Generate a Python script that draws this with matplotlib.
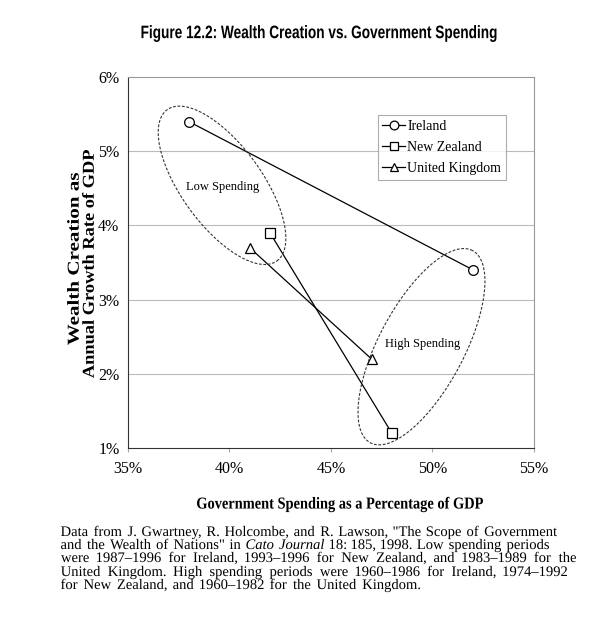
import numpy as np
import matplotlib
matplotlib.use("Agg")
import matplotlib.pyplot as plt
import matplotlib.transforms as mtransforms
from matplotlib.textpath import TextPath
from matplotlib.patches import PathPatch
from matplotlib.font_manager import FontProperties

# data: (low spending period, high spending period)
countries = ["Ireland", "New Zealand", "United Kingdom"]
markers = ["o", "s", "^"]
spending = [[38, 52], [42, 48], [41, 47]]   # % of GDP
growth = [[5.4, 3.4], [3.9, 1.2], [3.7, 2.2]]  # % annual growth

x_ticks = [35, 40, 45, 50, 55]
y_ticks = [1, 2, 3, 4, 5, 6]

title = "Figure 12.2: Wealth Creation vs. Government Spending"
ylabel = ["Wealth Creation as", "Annual Growth Rate of GDP"]
xlabel = "Government Spending as a Percentage of GDP"
caption = [
    'Data from J. Gwartney, R. Holcombe, and R. Lawson, "The Scope of Government',
    'and the Wealth of Nations" in Cato Journal 18: 185, 1998. Low spending periods',
    'were 1987\u20131996 for Ireland, 1993\u20131996 for New Zealand, and 1983\u20131989 for the',
    'United Kingdom. High spending periods were 1960\u20131986 for Ireland, 1974\u20131992',
    'for New Zealand, and 1960\u20131982 for the United Kingdom.',
]
italic_words = {"Cato", "Journal"}

serif = "Liberation Serif"
W, H = 600, 631

fig = plt.figure(figsize=(W / 100, H / 100), dpi=100)
ax = fig.add_axes([0.213, 0.29, 0.677, 0.588])

for name, m, xs, ys in zip(countries, markers, spending, growth):
    ax.plot(xs, ys, color="black", lw=0.9, marker=m, ms=7,
            mfc="white", mec="black", mew=0.9, label=name)

ax.set_xlim(35, 55)
ax.set_ylim(1, 6)
ax.set_xticks(x_ticks)
ax.set_yticks(y_ticks)
ax.set_xticklabels([f"{v}%" for v in x_ticks], family=serif, fontsize=11.5)
ax.set_yticklabels([f"{v}%" for v in y_ticks], family=serif, fontsize=11.5)
ax.tick_params(axis="x", length=3, width=0.8, color="#aaaaaa", pad=6)
ax.tick_params(axis="y", length=0, pad=6)
for v in y_ticks[1:-1]:
    ax.axhline(v, color="#bbbbbb", lw=0.8, zorder=0)
for s in ["top", "right"]:
    ax.spines[s].set_color("#999999")
for s in ["left", "bottom"]:
    ax.spines[s].set_color("#333333")

# dashed ellipses drawn in axes units, corrected for axes aspect
bb = ax.get_position()
aspect = (bb.width * W) / (bb.height * H)
def ellipse(cx, cy, a, b, ang):
    t = np.linspace(0, 2 * np.pi, 200)
    th = np.radians(ang)
    ex = a * np.cos(t) * np.cos(th) - b * np.sin(t) * np.sin(th)
    ey = a * np.cos(t) * np.sin(th) + b * np.sin(t) * np.cos(th)
    ax.plot(cx + ex, cy + ey * aspect, transform=ax.transAxes,
            color="#333333", lw=0.8, ls=(0, (2.5, 1.5)), clip_on=False)

ellipse(0.232, 0.708, 0.230, 0.099, -54)
ellipse(0.723, 0.273, 0.268, 0.105, 62)

ax.text(0.234, 0.704, "Low Spending", transform=ax.transAxes,
        ha="center", va="center", family=serif, fontsize=9)
ax.text(0.727, 0.281, "High Spending", transform=ax.transAxes,
        ha="center", va="center", family=serif, fontsize=9)

leg = ax.legend(loc="upper left", bbox_to_anchor=(0.615, 0.898),
                prop={"family": serif, "size": 10}, frameon=True,
                fancybox=False, edgecolor="#999999", handlelength=1.6,
                handletextpad=0.2, borderpad=0.35, labelspacing=0.6,
                borderaxespad=0, markerscale=0.9)
leg.get_frame().set_linewidth(0.8)


# text squeezed/stretched along its baseline to a given pixel width
def fitted_text(s, cx, cy, size, width, prop, rot=0):
    tp = TextPath((0, 0), s, size=size * 100 / 72, prop=prop)
    ext = tp.get_extents()
    sx = width / ext.width
    tr = (mtransforms.Affine2D()
          .translate(-(ext.x0 + ext.x1) / 2, -(ext.y0 + ext.y1) / 2)
          .scale(sx, 1).rotate_deg(rot)
          .translate(cx, H - cy).scale(1 / W, 1 / H))
    fig.add_artist(PathPatch(tp, transform=tr + fig.transFigure,
                             facecolor="black", lw=0))

sans_bold = FontProperties(family="Liberation Sans", weight="bold")
serif_bold = FontProperties(family=serif, weight="bold")
fitted_text(title, 319, 33.5, 13, 355, sans_bold)
fitted_text(xlabel, 340, 504.5, 12, 286, serif_bold)
fitted_text(ylabel[0], 73, 259, 12, 172, serif_bold, rot=90)
fitted_text(ylabel[1], 88, 264, 12, 228, serif_bold, rot=90)

# justified caption, word by word, drawn as paths on a shared baseline
cap_left = 61
cap_right = [557, 549, 576, 567, 420]
cap_base = [536, 549, 562, 576, 589]
cap_px = 10.5 * 100 / 72
fp_norm = FontProperties(family=serif)
fp_ital = FontProperties(family=serif, style="italic")
for line, right, yy in zip(caption, cap_right, cap_base):
    paths = []
    for w in line.split(" "):
        fp = fp_ital if w in italic_words else fp_norm
        paths.append(TextPath((0, 0), w, size=cap_px, prop=fp))
    exts = [p.get_extents() for p in paths]
    widths = [e.x1 - e.x0 for e in exts]
    gap = (right - cap_left - sum(widths)) / (len(paths) - 1)
    x = cap_left
    for p, e, w in zip(paths, exts, widths):
        tr = (mtransforms.Affine2D().translate(x - e.x0, H - yy)
              .scale(1 / W, 1 / H))
        fig.add_artist(PathPatch(p, transform=tr + fig.transFigure,
                                 facecolor="black", lw=0))
        x += w + gap

fig.savefig("out.png", dpi=100)
